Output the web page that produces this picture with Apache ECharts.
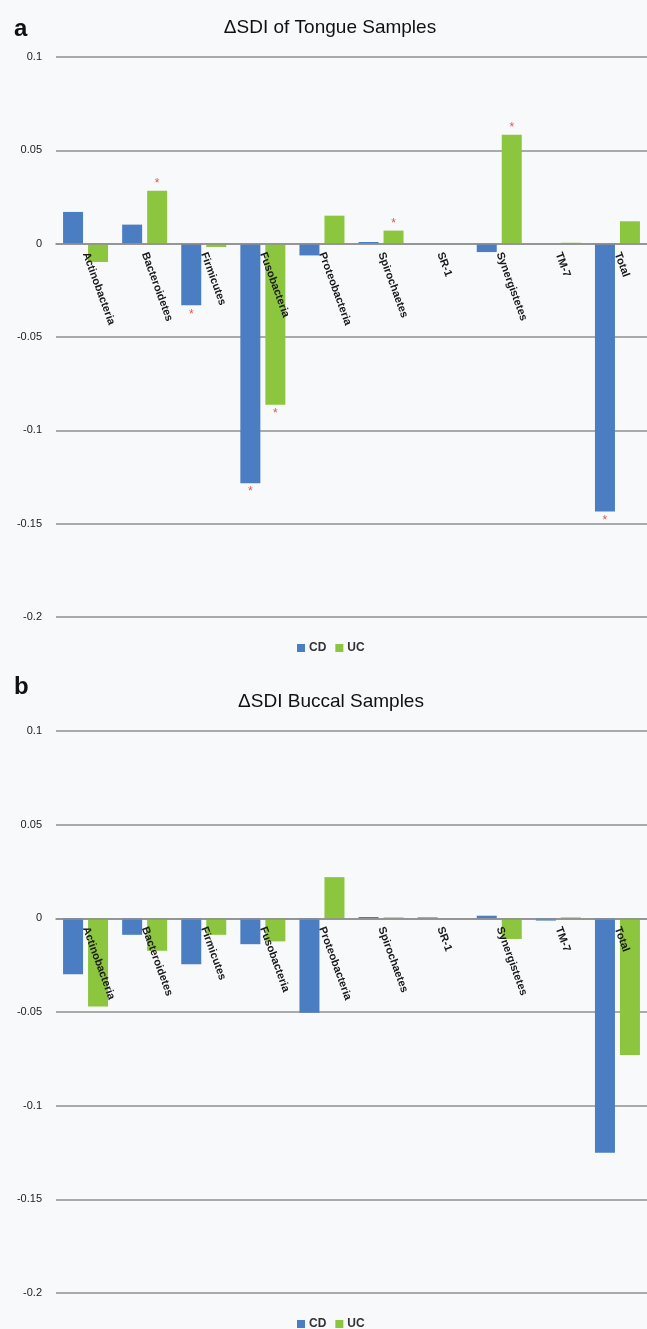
<!DOCTYPE html>
<html>
<head>
<meta charset="utf-8">
<script src="https://cdn.jsdelivr.net/npm/echarts@6/dist/echarts.min.js"></script>
<style>
html,body{margin:0;padding:0;background:#f8f9fb;}
#c{width:647px;height:1329px;}
</style>
</head>
<body>
<div id="c"></div>
<script>
// ---- data ----
const categories = ['Actinobacteria','Bacteroidetes','Firmicutes','Fusobacteria','Proteobacteria','Spirochaetes','SR-1','Synergistetes','TM-7','Total'];
const tongueCD = [0.017, 0.0102, -0.033, -0.1283, -0.0063, 0.0009, 0, -0.0045, 0, -0.1435];
const tongueUC = [-0.0098, 0.0284, -0.0018, -0.0863, 0.015, 0.007, 0, 0.0584, 0.0005, 0.012];
const tongueCDSig = [false, false, true, true, false, false, false, false, false, true];
const tongueUCSig = [false, true, false, true, false, true, false, true, false, false];
const buccalCD = [-0.0298, -0.0088, -0.0245, -0.0138, -0.0504, 0.0007, 0.0005, 0.0014, -0.0012, -0.1251];
const buccalUC = [-0.047, -0.0173, -0.0088, -0.0123, 0.022, 0.0005, 0, -0.011, 0.0005, -0.0729];
const seriesNames = ['CD', 'UC'];
const panelTitles = ['\u0394SDI of Tongue Samples', '\u0394SDI Buccal Samples'];
const panelLetters = ['a', 'b'];
const yMin = -0.2, yMax = 0.1, yStep = 0.05;

// ---- styles ----
const BLUE = '#4a7dc1';
const GREEN = '#8cc63f';
const GRIDC = '#8f8f8f';
const FONT = '"Liberation Sans Narrow","Liberation Sans",Arial,sans-serif';

function withSig(vals, sig) {
  return vals.map((v, i) => {
    if (!sig || !sig[i]) return v;
    return {
      value: v,
      label: {
        show: true,
        formatter: '*',
        position: v >= 0 ? 'top' : 'bottom',
        distance: v >= 0 ? 1 : 3,
        color: '#e8524f',
        fontSize: 12,
        fontFamily: FONT
      }
    };
  });
}

const grids = [
  {left: 56, width: 591, top: 57, height: 560},
  {left: 56, width: 591, top: 731, height: 562}
];

// place the category axis on the zero line of the value scale
function zeroOffset(g) {
  return -((0 - yMin) / (yMax - yMin)) * g.height;
}

const legendBase = {data: seriesNames.slice(), left: 297, itemWidth: 8, itemHeight: 8, itemGap: 9,
  icon: 'rect', padding: 0,
  textStyle: {fontFamily: FONT, fontSize: 12, fontWeight: 'bold', color: '#333', padding: [0,0,0,-1]}};

const option = {
  backgroundColor: '#f8f9fb',
  animation: false,
  title: [
    {text: panelTitles[0], left: 325, top: 13, textAlign: 'center',
     textStyle: {fontFamily: FONT, fontSize: 19, fontWeight: 'normal', color: '#111'}},
    {text: panelTitles[1], left: 326, top: 687, textAlign: 'center',
     textStyle: {fontFamily: FONT, fontSize: 19, fontWeight: 'normal', color: '#111'}},
    {text: panelLetters[0], left: 9, top: 12,
     textStyle: {fontFamily: 'Liberation Sans, Arial, sans-serif', fontSize: 24, fontWeight: 'bold', color: '#111'}},
    {text: panelLetters[1], left: 9, top: 670,
     textStyle: {fontFamily: 'Liberation Sans, Arial, sans-serif', fontSize: 24, fontWeight: 'bold', color: '#111'}}
  ],
  legend: [
    Object.assign({}, legendBase, {top: 642}),
    Object.assign({}, legendBase, {top: 1318})
  ],
  grid: grids,
  xAxis: grids.map((g, i) => ({
    type: 'category', gridIndex: i, data: categories, position: 'bottom',
    offset: zeroOffset(g), z: 10,
    axisLine: {onZero: false, lineStyle: {color: GRIDC, width: 1.5}},
    axisTick: {show: false},
    axisLabel: {rotate: -70, interval: 0, margin: 9, fontFamily: FONT, fontSize: 11, fontWeight: 'bold', color: '#1a1a1a'}
  })),
  yAxis: grids.map((g, i) => ({
    type: 'value', gridIndex: i, min: yMin, max: yMax, interval: yStep,
    axisLine: {show: false}, axisTick: {show: false},
    splitLine: {lineStyle: {color: GRIDC, width: 1.5}},
    axisLabel: {margin: 14, fontFamily: FONT, fontSize: 11, color: '#222'}
  })),
  series: [
    {name: seriesNames[0], type: 'bar', xAxisIndex: 0, yAxisIndex: 0, data: withSig(tongueCD, tongueCDSig),
     itemStyle: {color: BLUE}, barWidth: 20, barGap: '25%'},
    {name: seriesNames[1], type: 'bar', xAxisIndex: 0, yAxisIndex: 0, data: withSig(tongueUC, tongueUCSig),
     itemStyle: {color: GREEN}, barWidth: 20, barGap: '25%'},
    {name: seriesNames[0], type: 'bar', xAxisIndex: 1, yAxisIndex: 1, data: withSig(buccalCD, null),
     itemStyle: {color: BLUE}, barWidth: 20, barGap: '25%'},
    {name: seriesNames[1], type: 'bar', xAxisIndex: 1, yAxisIndex: 1, data: withSig(buccalUC, null),
     itemStyle: {color: GREEN}, barWidth: 20, barGap: '25%'}
  ]
};

const chart = echarts.init(document.getElementById('c'), null, {renderer: 'canvas'});
chart.setOption(option);
</script>
</body>
</html>
